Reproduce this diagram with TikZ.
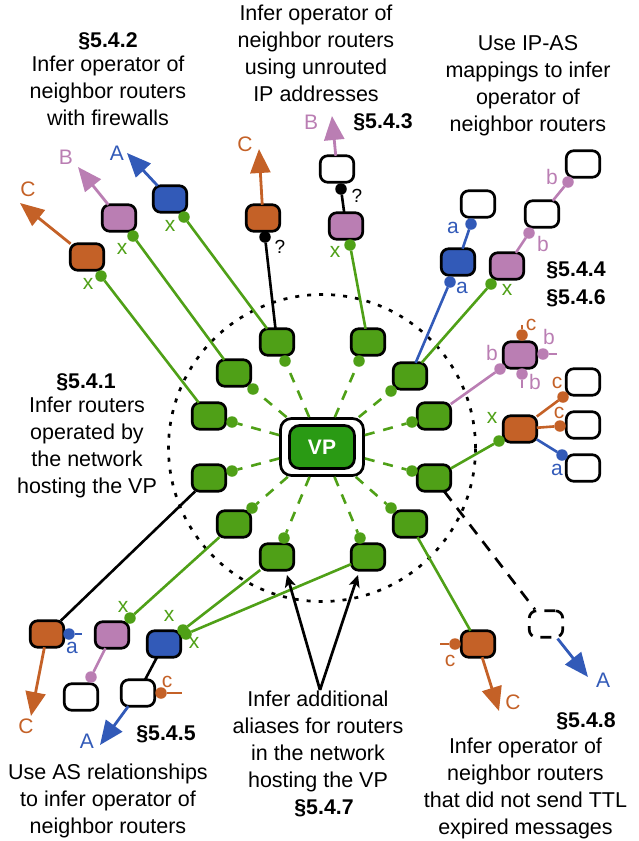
\documentclass[tikz,border=0pt]{standalone}
\usepackage{fontspec}
\setmainfont{Liberation Sans}
\usetikzlibrary{arrows.meta}
\definecolor{cgreen}{HTML}{4FA017}
\definecolor{cvp}{HTML}{2A9A14}
\definecolor{corange}{HTML}{C46127}
\definecolor{cpink}{HTML}{BA7EB3}
\definecolor{cblue}{HTML}{325AB8}
\tikzset{
  x=1pt,y=-1pt,
  router/.style={draw=black,line width=2.7pt,rounded corners=7.5pt,minimum width=33.5pt,minimum height=26.5pt,inner sep=0pt,outer sep=0pt,fill=#1},
  router/.default=white,
  dot/.style={circle,fill=#1,minimum size=11.5pt,inner sep=0pt,outer sep=0pt},
  stub/.style={#1,line width=2.6pt},
  link/.style={#1,line width=2.6pt},
  arrowline/.style={#1,line width=2.8pt,-{Triangle[length=24pt,width=20pt]}},
  lab/.style={text=#1,font=\fontsize{21}{22}\selectfont,inner sep=0pt},
  txt/.style={font=\fontsize{21.5}{27}\selectfont,align=center,inner sep=0pt,text=black},
  sec/.style={font=\fontsize{21.3}{27}\selectfont\bfseries,inner sep=0pt,text=black},
  greendash/.style={cgreen,line width=2.6pt,dash pattern=on 10pt off 9pt},
}
\begin{document}
\begin{tikzpicture}
\useasboundingbox (0,0) rectangle (639,841);
% dotted circle
\node[circle,draw=black,line width=2.7pt,dash pattern=on 4pt off 8pt,minimum size=307pt,inner sep=0pt] (ring) at (322,448) {};
% VP
\node[draw=black,fill=white,line width=2.7pt,rounded corners=11pt,minimum width=83pt,minimum height=57pt,inner sep=0pt] (vpo) at (322,447) {};
\node[draw=black,fill=cvp,line width=2.7pt,rounded corners=10pt,minimum width=65pt,minimum height=43pt,inner sep=0pt,text=white,font=\fontsize{21}{22}\selectfont\bfseries] (vp) at (322,447) {VP};
% first-hop routers
\foreach \n/\x/\y in {g1/277/342,g2/368/342,g3/234/373,g4/410/376,g5/209/416,g6/434/416,g7/209/478,g8/434/478,g9/234/524,g10/410/524,g11/277/557,g12/368/557}
  \node[router=cgreen] (\n) at (\x,\y) {};
\foreach \n/\x/\y in {d1/285/361,d2/359/361,d3/253/389,d4/391/391,d5/232/422,d6/412/422,d7/232/471,d8/412/471,d9/252/508,d10/391/508,d11/284/538,d12/360/538}{
  \node[dot=cgreen] (\n) at (\x,\y) {};
  \draw[greendash] (vpo) -- (\n);
}
% outer routers
\node[router=corange] (o1) at (87,257) {};
\node[router=cpink] (p1) at (119,218) {};
\node[router=cblue] (b1) at (170,199) {};
\node[router=corange] (o2) at (263,218) {};
\node[router] (w1) at (337,169) {};
\node[router=cpink] (p2) at (346,226) {};
\node[router] (w2) at (478,204) {};
\node[router=cblue] (b2) at (458,262) {};
\node[router=cpink] (p3) at (507,266) {};
\node[router] (w3) at (542,214) {};
\node[router] (w4) at (583,164) {};
\node[router=cpink] (p4) at (520,355) {};
\node[router=corange] (o3) at (520,429) {};
\node[router] (w5) at (583,382) {};
\node[router] (w6) at (583,425) {};
\node[router] (w7) at (583,468) {};
\node[router=corange] (o4) at (47,634) {};
\node[router=cpink] (p5) at (112,635) {};
\node[router=cblue] (b3) at (164,644) {};
\node[router] (w8) at (81,697) {};
\node[router] (w9) at (138,693) {};
\node[router=corange] (o5) at (478,644) {};
\node[draw=black,line width=2.7pt,rounded corners=7.5pt,minimum width=33.5pt,minimum height=26.5pt,inner sep=0pt,dash pattern=on 11pt off 8pt] (dn) at (546,624) {};
% dots
\node[dot=cgreen] (e1) at (101,276) {};
\node[dot=cgreen] (e2) at (133,236) {};
\node[dot=cgreen] (e3) at (184,217) {};
\node[dot=black] (k1) at (265,237) {};
\node[dot=black] (k2) at (341,189) {};
\node[dot=cgreen] (e4) at (350,245) {};
\node[dot=cblue] (a1) at (471,224) {};
\node[dot=cblue] (a2) at (450,282) {};
\node[dot=cgreen] (e5) at (491,284) {};
\node[dot=cpink] (q1) at (529,233) {};
\node[dot=cpink] (q2) at (568,182) {};
\node[dot=corange] (c1) at (522,335) {};
\node[dot=cpink] (q3) at (543,354) {};
\node[dot=cpink] (q4) at (522,374) {};
\node[dot=cpink] (q5) at (500,369) {};
\node[dot=corange] (c2) at (563,397) {};
\node[dot=corange] (c3) at (560,426) {};
\node[dot=cblue] (a3) at (562,455) {};
\node[dot=cgreen] (e6) at (499,441) {};
\node[dot=corange] (c4) at (455,644) {};
\node[dot=cblue] (a4) at (69,634) {};
\node[dot=cgreen] (e7) at (130,618) {};
\node[dot=cgreen] (e8) at (183,630) {};
\node[dot=cgreen] (e9) at (186,634) {};
\node[dot=cpink] (q6) at (91,677) {};
\node[dot=corange] (c5) at (161,693) {};
% free ends
\coordinate (t1) at (20,203);
\coordinate (t2) at (78,167);
\coordinate (t3) at (127,153);
\coordinate (t4) at (259,149);
\coordinate (t5) at (332,116);
\coordinate (t6) at (588,677);
\coordinate (t7) at (499,711);
\coordinate (t8) at (31,716);
\coordinate (t9) at (100,745);
\coordinate (s1) at (522,325);
\coordinate (s2) at (557,354);
\coordinate (s3) at (522,388);
\coordinate (s4) at (440,644);
\coordinate (s5) at (82,634);
\coordinate (s6) at (182,693);
\coordinate (src) at (320,690);
\coordinate (aim1) at (287,575);
\coordinate (aim2) at (358,575);
% links
\foreach \a/\b/\c in {g5/e1/cgreen,g3/e2/cgreen,g1/e3/cgreen,g2/e4/cgreen,g4/e5/cgreen,g8/e6/cgreen,g9/e7/cgreen,g11/e8/cgreen,g12/e9/cgreen,g10/o5/cgreen,
  g4/a2/cblue,b2/a1/cblue,o3/a3/cblue,p3/q1/cpink,w3/q2/cpink,g6/q5/cpink,p5/q6/cpink,o3/c2/corange,o3/c3/corange,
  g1/k1/black,p2/k2/black,g7/o4/black,b3/w9/black}
  \draw[link=\c] (\a) -- (\b);
\draw[black,line width=2.7pt,dash pattern=on 12pt off 9pt] (g8) -- (dn);
% stubs
\draw[stub=corange] (c1) -- (s1);
\draw[stub=cpink] (q3) -- (s2);
\draw[stub=cpink] (q4) -- (s3);
\draw[stub=corange] (c4) -- (s4);
\draw[stub=cblue] (a4) -- (s5);
\draw[stub=corange] (c5) -- (s6);
% arrows
\draw[arrowline=corange] (o1) -- (t1);
\draw[arrowline=cpink] (p1) -- (t2);
\draw[arrowline=cblue] (b1) -- (t3);
\draw[arrowline=corange] (o2) -- (t4);
\draw[arrowline=cpink] (w1) -- (t5);
\draw[arrowline=cblue] (dn) -- (t6);
\draw[arrowline=corange] (o5) -- (t7);
\draw[arrowline=corange] (o4) -- (t8);
\draw[arrowline=cblue] (w9) -- (t9);
\draw[black,line width=2.7pt,-{Stealth[length=12pt,width=11pt,inset=3pt]}] (src) -- (aim1);
\draw[black,line width=2.7pt,-{Stealth[length=12pt,width=11pt,inset=3pt]}] (src) -- (aim2);
% small labels
\foreach \n/\x/\y/\c/\t in {la/28/189/corange/C,lb/66/157/cpink/B,lc/117/153/cblue/A,ld/245/144/corange/C,le/311/122/cpink/B,
  lf/603/680/cblue/A,lg/513/702/corange/C,lh/26/726/corange/C,li/87/741/cblue/A,
  x1/88/284/cgreen/x,x2/122/249/cgreen/x,x3/170/226/cgreen/x,x4/335/252/cgreen/x,x5/507/290/cgreen/x,x6/492/418/cgreen/x,x7/123/607/cgreen/x,x8/169/616/cgreen/x,x9/194/643/cgreen/x,
  m1/453/228/cblue/a,m2/462/288/cblue/a,m3/557/470/cblue/a,m4/72/648/cblue/a,
  n1/552/177/cpink/b,n2/543/244/cpink/b,n3/549/337/cpink/b,n4/535/382/cpink/b,n5/492/353/cpink/b,
  r1/531/325/corange/c,r2/557/383/corange/c,r3/559/413/corange/c,r4/450/661/corange/c,r5/167/682/corange/c}
  \node[lab=\c] (\n) at (\x,\y) {\t};
\node[font=\fontsize{19}{20}\selectfont,inner sep=0pt] (h1) at (280,247) {?};
\node[font=\fontsize{19}{20}\selectfont,inner sep=0pt] (h2) at (357,196) {?};
% text
\node[sec] (s542) at (108,41) {§5.4.2};
\node[txt] (t542) at (108,91) {Infer operator of\\neighbor routers\\with firewalls};
\node[txt] (t543) at (316,53.5) {Infer operator of\\neighbor routers\\using unrouted\\IP addresses};
\node[sec] (s543) at (383,122.5) {§5.4.3};
\node[txt] (t544) at (528,86) {Use IP-AS\\mappings to infer\\operator of\\neighbor routers};
\node[sec] (s544) at (576,270) {§5.4.4};
\node[sec] (s546) at (576,298) {§5.4.6};
\node[sec] (s541) at (86,382) {§5.4.1};
\node[txt] (t541) at (87,447) {Infer routers\\operated by\\the network\\hosting the VP};
\node[txt] (t547) at (318,741) {Infer additional\\aliases for routers\\in the network\\hosting the VP};
\node[sec] (s547) at (324,808) {§5.4.7};
\node[sec] (s545) at (166,734) {§5.4.5};
\node[txt] (t545) at (108,800.5) {Use AS relationships\\to infer operator of\\neighbor routers};
\node[sec] (s548) at (586,721) {§5.4.8};
\node[txt] (t548) at (525.5,788) {Infer operator of\\neighbor routers\\that did not send TTL\\expired messages};
\end{tikzpicture}
\end{document}
